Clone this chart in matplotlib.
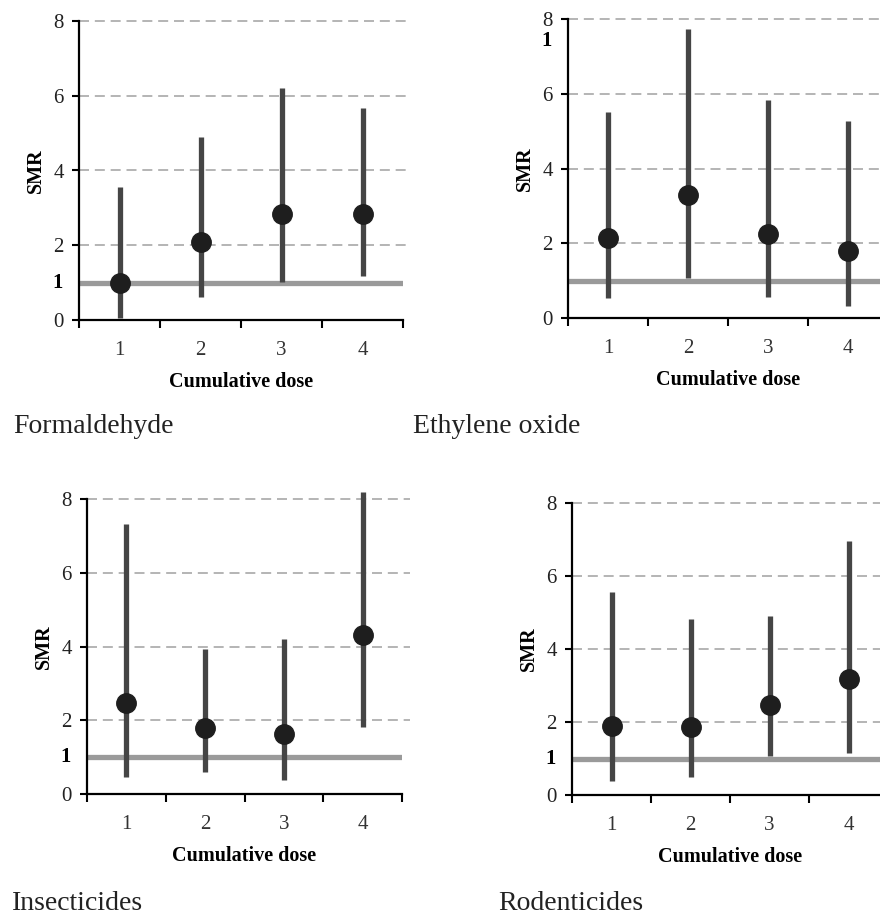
import matplotlib.pyplot as plt
import numpy as np

plt.rcParams['font.family'] = ['Liberation Serif', 'DejaVu Serif']

# Dose categories
doses = [1, 2, 3, 4]
y_ticks = [0, 2, 4, 6, 8]

# Formaldehyde
form_smr = [1.0, 2.08, 2.84, 2.84]
form_lo = [0.05, 0.62, 1.02, 1.18]
form_hi = [3.55, 4.9, 6.22, 5.66]

# Ethylene oxide
eth_smr = [2.14, 3.29, 2.25, 1.79]
eth_lo = [0.54, 1.06, 0.57, 0.32]
eth_hi = [5.5, 7.72, 5.83, 5.28]

# Insecticides
ins_smr = [2.47, 1.79, 1.63, 4.30]
ins_lo = [0.45, 0.61, 0.39, 1.81]
ins_hi = [7.32, 3.94, 4.21, 8.2]

# Rodenticides
rod_smr = [1.89, 1.87, 2.47, 3.18]
rod_lo = [0.37, 0.48, 1.08, 1.14]
rod_hi = [5.55, 4.82, 4.91, 6.97]

W, H = 880, 917
fig = plt.figure(figsize=(W / 100, H / 100), dpi=100)


def px_axes(x0, x1, y_top, y_bot):
    # axes rectangle from pixel coords of the reference
    return fig.add_axes([x0 / W, 1 - y_bot / H, (x1 - x0) / W, (y_bot - y_top) / H])


def panel(ax, smr, lo, hi, one_pos=1.0):
    ax.set_xlim(0.5, 4.5)
    ax.set_ylim(0, 8)
    # dashed grid lines, a bit longer than the axis
    ax.hlines([2, 4, 6, 8], 0.5, 4.6, colors='#a8a8a8', linestyles=(0, (6, 3.5)),
              linewidth=1.2, clip_on=False, zorder=1)
    ax.hlines(1, 0.5, 4.5, colors='#9a9a9a', linewidth=3.8, zorder=2)
    ax.vlines(doses, lo, hi, colors='#454545', linewidth=3.8, clip_on=False, zorder=3)
    ax.plot(doses, smr, 'o', color='#1e1e1e', markersize=14, zorder=4, clip_on=False)

    for s in ['top', 'right']:
        ax.spines[s].set_visible(False)
    for s in ['left', 'bottom']:
        ax.spines[s].set_linewidth(1.6)
        ax.spines[s].set_color('black')

    ax.set_yticks(y_ticks)
    ax.set_yticklabels([str(t) for t in y_ticks], fontsize=15, color='#222222')
    ax.tick_params(axis='y', length=5, width=1.5, pad=6)
    # bold "1" reference label
    ax.annotate('1', xy=(0, one_pos), xycoords=('axes fraction', 'data'),
                xytext=(-11.5, 0), textcoords='offset points',
                fontsize=15, fontweight='bold', ha='right', va='center')

    ax.set_xticks([0.5, 1.5, 2.5, 3.5, 4.5])
    ax.set_xticklabels([])
    ax.tick_params(axis='x', which='major', length=6, width=1.5, direction='out')
    ax.set_xticks(doses, minor=True)
    ax.set_xticklabels([str(d) for d in doses], minor=True, fontsize=15, color='#333333')
    ax.tick_params(axis='x', which='minor', length=0, pad=15)

    ax.set_xlabel('Cumulative dose', fontsize=14.5, fontweight='bold', labelpad=9)
    ax.set_ylabel('SMR', fontsize=14.5, fontweight='bold', labelpad=5)


ax1 = px_axes(79, 403, 21, 320)
panel(ax1, form_smr, form_lo, form_hi)

ax2 = px_axes(568, 888, 19, 318)
panel(ax2, eth_smr, eth_lo, eth_hi, one_pos=7.42)

ax3 = px_axes(87, 402, 499, 794)
panel(ax3, ins_smr, ins_lo, ins_hi)

ax4 = px_axes(572, 888, 503, 795)
panel(ax4, rod_smr, rod_lo, rod_hi)

fig.text(13 / W, 1 - 433 / H, 'Formaldehyde', fontsize=20, va='baseline', color='#222222')
fig.text(413 / W, 1 - 433 / H, 'Ethylene oxide', fontsize=20, va='baseline', color='#222222')
fig.text(12 / W, 1 - 910 / H, 'Insecticides', fontsize=20, va='baseline', color='#222222')
fig.text(498 / W, 1 - 910 / H, 'Rodenticides', fontsize=20, va='baseline', color='#222222')

fig.savefig('out.png', dpi=100)
